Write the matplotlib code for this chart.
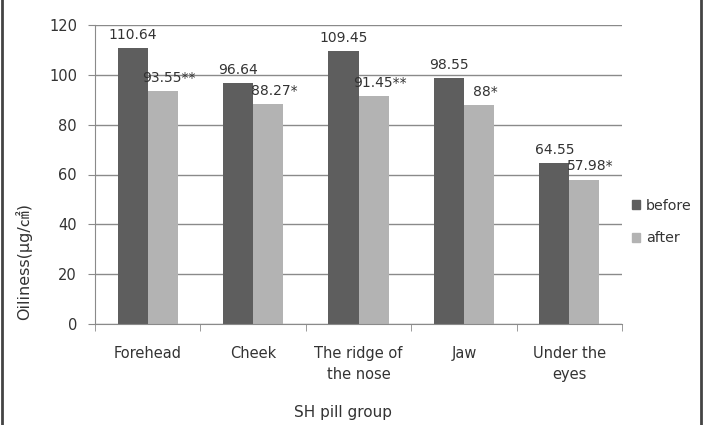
import matplotlib
matplotlib.use('Agg')
import matplotlib.pyplot as plt
from matplotlib.lines import Line2D
from matplotlib.patches import Patch
import numpy as np

plt.rcParams['font.family'] = ['DejaVu Sans', 'Noto Sans CJK SC']

categories = ["Forehead", "Cheek", "The ridge of\nthe nose", "Jaw", "Under the\neyes"]
before = [110.64, 96.64, 109.45, 98.55, 64.55]
after = [93.55, 88.27, 91.45, 88, 57.98]
before_labels = ["110.64", "96.64", "109.45", "98.55", "64.55"]
after_labels = ["93.55**", "88.27*", "91.45**", "88*", "57.98*"]

dark = "#5e5e5e"
light = "#b3b3b3"
txt = "#333333"
W, H = 703, 425

fig = plt.figure(figsize=(W/100, H/100), dpi=100)
ax = fig.add_axes([95/W, 1 - 324/H, (622-95)/W, (324-25)/H])

x = np.arange(len(categories))
w = 0.285
ax.bar(x - w/2, before, w, color=dark, zorder=2)
ax.bar(x + w/2, after, w, color=light, zorder=2)

for i in range(len(x)):
  ax.text(x[i] - w/2, before[i] + 2.5, before_labels[i], ha="center", va="bottom", fontsize=10, color=txt)
  ax.text(x[i] + w/2 + 0.06, after[i] + 2.5, after_labels[i], ha="center", va="bottom", fontsize=10, color=txt)

ax.set_xlim(-0.5, len(x) - 0.5)
ax.set_ylim(0, 120)
ax.set_yticks(range(0, 121, 20))
ax.yaxis.grid(True, color="#8a8a8a", linewidth=1, zorder=0)
ax.set_axisbelow(True)

ax.set_xticks(x)
ax.set_xticklabels(categories, fontsize=10.5, color=txt, linespacing=1.5)
ax.tick_params(axis="x", length=0, pad=16)
ax.set_xticks(np.arange(-0.5, len(x), 1), minor=True)
ax.tick_params(axis="x", which="minor", length=5, color="#8a8a8a", direction="out")
ax.tick_params(axis="y", length=5, color="#8a8a8a", labelsize=10.5, labelcolor=txt, pad=8)

for s in ["top", "right"]:
  ax.spines[s].set_visible(False)
ax.spines["left"].set_color("#8a8a8a")
ax.spines["bottom"].set_color("#8a8a8a")

fig.text(24/W, 1 - 262/H, "Oiliness(μg/㎠)", rotation=90, ha="center", va="center",
         fontsize=11.5, color=txt)
fig.text(343/W, 1 - 412/H, "SH pill group", ha="center", va="center", fontsize=11, color=txt)

handles = [Patch(color=dark, label="before"), Patch(color=light, label="after")]
fig.legend(handles=handles, loc="upper left", bbox_to_anchor=(619/W, 1 - 186/H),
           frameon=False, fontsize=10.3, handlelength=0.6, handleheight=0.6,
           handletextpad=0.4, labelspacing=1.3, labelcolor=txt)

fig.add_artist(Line2D([1.5/W, 1.5/W], [0, 1], color="#444444", linewidth=2))
fig.add_artist(Line2D([701/W, 701/W], [0, 1], color="#444444", linewidth=2))

fig.savefig("out.png", dpi=100)
